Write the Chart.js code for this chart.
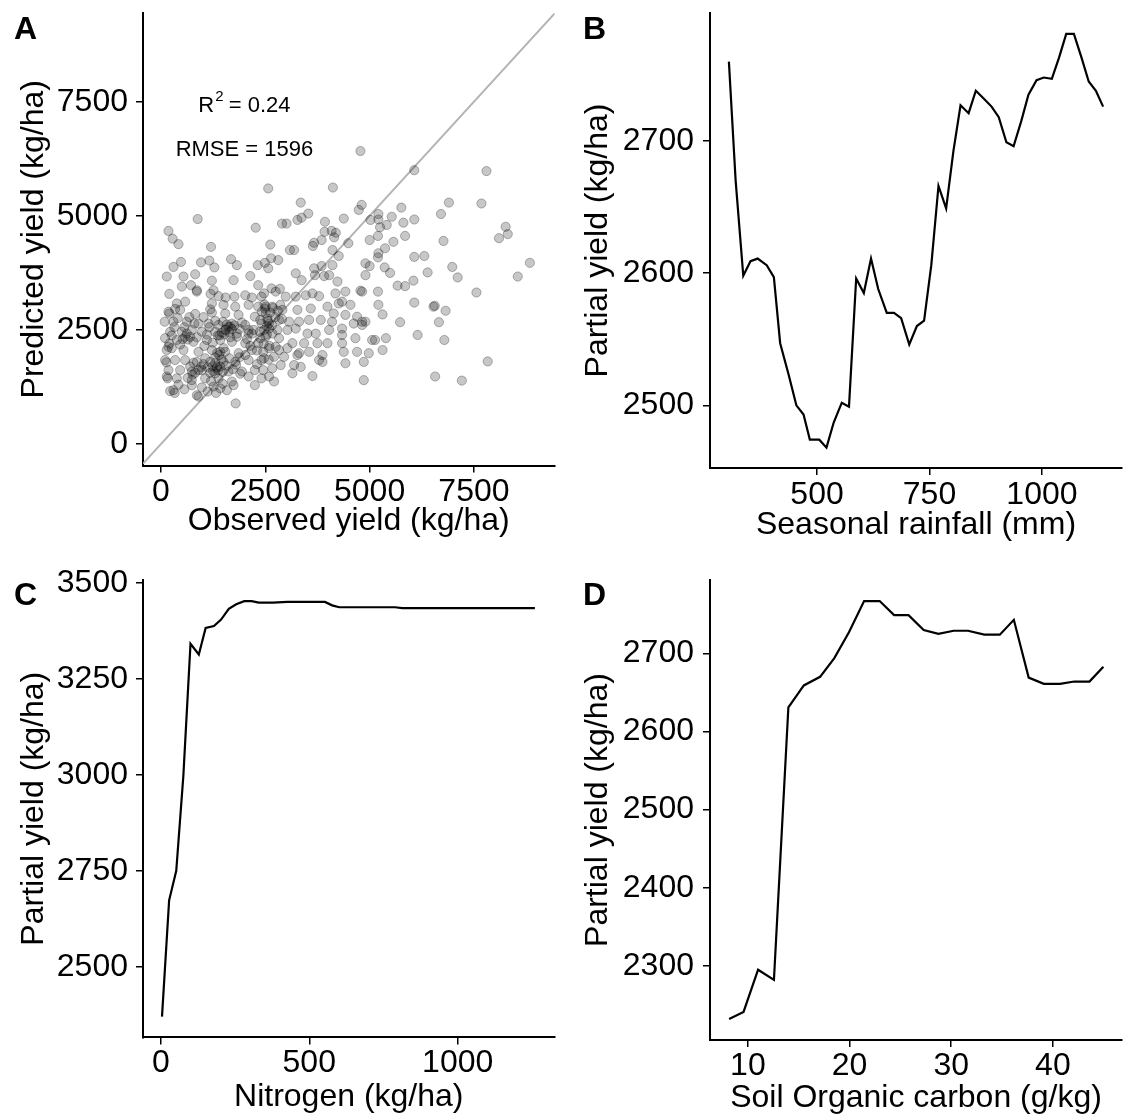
<!DOCTYPE html>
<html>
<head>
<meta charset="utf-8">
<script src="https://cdn.jsdelivr.net/npm/chart.js@4.4.0/dist/chart.umd.min.js"></script>
<style>
  body { margin: 0; background: #fff; }
  #fig { position: relative; width: 1123px; height: 1114px; overflow: hidden; }
  canvas { position: absolute; }
</style>
</head>
<body>
<div id="fig">
  <canvas id="chartA" width="561" height="557" style="left:0;top:0"></canvas>
  <canvas id="chartB" width="562" height="557" style="left:561px;top:0"></canvas>
  <canvas id="chartC" width="561" height="557" style="left:0;top:557px"></canvas>
  <canvas id="chartD" width="562" height="557" style="left:561px;top:557px"></canvas>
</div>
<script>
// ---- panel A: observed vs predicted yield (kg/ha) ----
const observedYield = [
  200,860,1190,1380,1550,1760,2020,2180,2410,380,580,1220,1500,1780,2100,2330,2490,
  180,460,820,1220,1540,1860,2250,90,300,620,900,1140,1380,1660,2020,2410,
  220,500,700,980,1300,1540,1820,2100,2370,100,380,780,1100,1420,1700,2020,2330,
  260,540,900,1220,1540,1860,2180,2450,100,340,580,860,1180,1500,1780,2100,2410,
  180,460,740,980,1340,1620,1940,2250,2450,140,380,740,1060,1380,1700,2100,2410,
  300,740,860,1260,1420,1580,1740,2250,900,1790,
  1340,1380,1620,1700,1550,1420,1500,2100,2180,580,640,180,140,
  1300,1400,1350,1450,1250,1300,
  130,160,220,330,
  2470,2750,2990,3230,3470,3790,4180,4340,4540,4820,
  2510,2670,2910,3270,3590,3990,4140,4420,4700,4900,
  2550,2830,3070,3310,3550,3830,4100,4340,4620,4820,
  2590,2790,3030,3230,3510,3710,4030,4340,4660,5060,
  2510,2830,3150,3430,3750,3990,4340,
  2590,2830,3030,3310,3550,3870,4380,4700,4980,
  2470,2710,2950,3270,3790,3870,4420,4860,
  2670,2870,3190,3350,2590,2710,3150,3630,4860,
  2510,2590,2670,2750,2470,4260,4820,
  2570,880,2270,180,280,420,1200,2620,3090,3010,2900,
  480,300,960,1160,1280,1680,1820,2320,2490,2640,2810,2570,
  140,540,820,1220,1740,2140,500,720,860,1260,2330,2650,2850,
  4780,4120,3350,3530,3270,3370,3930,4380,4810,4740,5020,
  3920,4090,4190,4150,3640,3670,3850,4490,5000,4110,4260,3190,4900,5000,
  4900,4110,3850,3670,3690,3910,4030,3230,3370,4230,4420,4780,3630,
  6070,7800,6900,7680,6710,5210,5760,5530,5810,6070,5410,5250,5210,5200,5850,
  5570,5370,5210,5200,6770,8260,8310,8100,6070,6310,8840,8550,6980,7110,6390,
  5360,5490,5670,5850,6050,5200,7560,6070,5210,5310,6530,6560,6820,6660,5730,
  6150,5390,5130,5310,6790,7830,6570,7210,
  // overlapping points inside the dense cluster
  760,820,900,960,1020,780,1120,1180,1240,1300,1420,1480,1560,1640,1720,1800,1880,1900,700,1060,
  1400,1460,1520,1580,1640,1700,1760,1820,1880,1940,1480,1660,
  2380,2420,2480,2560,2620,2680,2740,2800,2860,2900,2540,2660,
  200,260,320,400,460,520,560,620,680,740,800,860,200,340,
  2060,2140,2220,2300,2380,2460,2540,2600,2020,2300,2580,
  1040,1100,1160,1240,1300,1360,1020,1180,
  420,560,640,980,1120,1200,1320,1480
];
const predictedYield = [
  3290,3340,3290,3240,3210,3230,3260,3210,3230,3080,3120,3080,3050,3010,3050,3010,2970,
  2900,2940,2850,2880,2860,2830,2790,2680,2680,2680,2640,2640,2610,2570,2610,2640,
  2460,2460,2350,2460,2460,2500,2420,2420,2460,2320,2280,2240,2280,2280,2240,2210,2210,
  2100,2060,2020,2060,2020,1990,2060,2020,1840,1840,1840,1800,1800,1800,1800,1840,1840,
  1620,1620,1590,1620,1660,1590,1590,1620,1620,1480,1440,1400,1440,1440,1370,1480,1440,
  1180,1290,1070,1260,1220,1180,1290,1290,1040,890,
  1690,1620,2570,2640,2510,2020,2100,2500,2420,2350,2290,2130,2060,
  1900,1950,2000,1850,1600,1550,
  1790,1440,1160,1120,
  3300,3340,3230,3230,3260,3240,3300,3120,3050,3340,
  3010,3010,2940,2940,2970,3010,2860,2830,2790,2680,
  2750,2720,2680,2680,2720,2720,2680,2530,2640,2610,
  2530,2500,2500,2530,2420,2420,2500,2390,2320,2280,
  2350,2320,2210,2210,2210,2210,2210,
  2100,2060,2100,1990,2020,1950,2020,2020,1990,
  1880,1910,1910,1950,1840,1800,1770,1800,
  1660,1730,1730,1690,1480,1370,1550,1490,1400,
  2860,2640,2420,2130,2500,3080,2680,
  5600,4930,4740,4670,4500,4380,4320,4370,4250,4830,4830,
  3990,3880,3980,4020,3870,4050,3920,3920,3970,4070,4030,3850,
  3670,3670,3720,3580,3590,3680,3450,3480,3370,3370,3480,3410,3400,
  6420,5620,5290,5050,4910,4960,4870,4940,5240,5130,4910,
  4650,4670,4630,4530,4340,4410,4470,4400,4470,4250,4120,4250,3960,3900,
  3700,3920,3900,3850,3700,3680,3700,3740,3590,3560,3340,3360,3300,
  6000,5980,5290,5270,5040,5040,5180,4980,4850,4920,4800,4750,4920,4560,4560,
  4430,4290,4180,4090,4450,4760,4600,4510,4100,4120,3970,3670,3880,3650,3760,
  3870,3750,3470,3460,3580,3340,3320,3100,3050,2840,3010,3030,2920,2670,2670,
  2390,2320,2280,2060,2280,1810,1480,1390,
  // overlapping points inside the dense cluster
  1520,1560,1620,1690,1750,1780,1680,1560,1700,1780,1700,1580,1720,1880,1640,1740,1900,1540,1700,1880,
  2380,2440,2400,2620,2450,2520,2600,2350,2520,2660,2680,2340,
  2720,2900,3060,2700,2880,2980,2780,2920,3050,2740,2580,2600,
  2200,2380,2560,2760,2180,2300,2560,2420,2780,2500,2640,2340,2860,2960,
  2300,2150,2500,2050,2320,2200,2400,2150,1950,1750,1850,
  2150,2400,2560,2220,2700,2380,2780,2950,
  1300,1200,1450,1240,1150,1380,1120,1320
];
const yieldTicks = [0, 2500, 5000, 7500];
const r2Value = '0.24';
const rmseValue = '1596';

// ---- panel B: seasonal rainfall (mm) ----
const rainfall = [304,319,336,352,368,388,404,418,437,454,470,484,505,521,537,555,571,587,604,620,
  636,655,671,687,705,722,738,754,770,787,803,819,837,853,871,888,904,921,937,954,
  970,988,1004,1022,1038,1054,1071,1088,1104,1120,1136];
const rainfallYield = [2760,2670,2598,2609,2611,2606,2597,2547,2523,2500,2493,2474,2474,2468,2487,2502,2499,2596,2585,2611,
  2588,2570,2570,2566,2546,2560,2564,2606,2666,2649,2692,2727,2721,2738,2732,2726,2718,2699,2696,2715,
  2735,2746,2748,2747,2763,2781,2781,2763,2745,2738,2726];
const rainfallTicks = [500, 750, 1000];
const rainfallYieldTicks = [2500, 2600, 2700];

// ---- panel C: nitrogen (kg/ha) ----
const nitrogen = [4,28,52,76,100,128,151,179,203,229,254,281,306,330,378,426,499,553,577,601,668,789,813,909,1260];
const nitrogenYield = [2370,2673,2750,2998,3341,3313,3382,3387,3404,3432,3444,3452,3452,3448,3448,3450,3450,3450,3441,3436,3436,3436,3434,3434,3434];
const nitrogenTicks = [0, 500, 1000];
const nitrogenYieldTicks = [2500, 2750, 3000, 3250, 3500];

// ---- panel D: soil organic carbon (g/kg) ----
const soilCarbon = [8.15,9.57,11.0,12.56,13.98,15.5,17.1,18.5,19.94,21.43,22.96,24.38,25.8,27.29,28.74,30.24,31.66,33.25,34.78,36.16,37.62,39.11,40.7,42.1,43.6,44.97];
const soilCarbonYield = [2232,2241,2295,2282,2631,2659,2670,2694,2727,2767,2767,2749,2749,2730,2725,2729,2729,2724,2724,2743,2669,2661,2661,2664,2664,2683];
const carbonTicks = [10, 20, 30, 40];
const carbonYieldTicks = [2300, 2400, 2500, 2600, 2700];

const FONT = '"Liberation Sans", Arial, Helvetica, sans-serif';

const panelLabel = {
  id: 'panelLabel',
  afterDraw(chart, args, opts) {
    if (!opts || !opts.text) return;
    const ctx = chart.ctx;
    ctx.save();
    ctx.font = 'bold 32px ' + FONT;
    ctx.fillStyle = '#000';
    ctx.textBaseline = 'alphabetic';
    ctx.fillText(opts.text, opts.x, opts.y);
    ctx.restore();
  }
};
Chart.register(panelLabel);

// R^2 / RMSE text placed in data units, like annotate() in ggplot
const statsText = {
  id: 'statsText',
  afterDatasetsDraw(chart) {
    const { ctx, scales } = chart;
    const cx = scales.x.getPixelForValue(2000);
    const y1 = scales.y.getPixelForValue(7400);
    const y2 = scales.y.getPixelForValue(6450);
    ctx.save();
    ctx.fillStyle = '#000';
    ctx.textBaseline = 'middle';
    ctx.textAlign = 'left';
    const big = '22px ' + FONT, small = '15px ' + FONT;
    ctx.font = big;
    const wR = ctx.measureText('R').width;
    const wRest = ctx.measureText(' = ' + r2Value).width;
    ctx.font = small;
    const w2 = ctx.measureText('2').width;
    let x0 = cx - (wR + w2 + wRest) / 2;
    ctx.font = big;
    ctx.fillText('R', x0, y1);
    ctx.font = small;
    ctx.fillText('2', x0 + wR + 1, y1 - 9);
    ctx.font = big;
    ctx.fillText(' = ' + r2Value, x0 + wR + w2, y1);
    ctx.textAlign = 'center';
    ctx.fillText('RMSE = ' + rmseValue, cx, y2);
    ctx.restore();
  }
};

function scale(cfg) {
  const left = cfg.position === 'left';
  return {
    type: 'linear',
    position: cfg.position,
    min: cfg.min,
    max: cfg.max,
    afterBuildTicks: s => { s.ticks = cfg.ticks.map(v => ({ value: v })); },
    afterFit: s => {
      if (left) s.width = cfg.size; else s.height = cfg.size;
      // no extra room for half labels: the axes run to the panel edges
      s.paddingTop = 0; s.paddingBottom = 0; s.paddingLeft = 0; s.paddingRight = 0;
    },
    ticks: {
      autoSkip: false, maxRotation: 0, minRotation: 0,
      padding: cfg.tickPad, color: '#000',
      font: { family: FONT, size: 32, lineHeight: 1 },
      callback: v => String(v)
    },
    grid: { drawOnChartArea: false, drawTicks: true, tickLength: 7, color: '#000', lineWidth: 1.5 },
    border: { display: true, color: '#000', width: 2 },
    title: {
      display: true, text: cfg.title, color: '#000',
      font: { family: FONT, size: 32, lineHeight: 1 },
      padding: left ? { top: cfg.titlePad, bottom: 0 } : { top: 0, bottom: cfg.titlePad }
    }
  };
}

function makeChart(id, datasets, xCfg, yCfg, pad, label, extra) {
  return new Chart(document.getElementById(id), {
    type: 'scatter',
    data: { datasets },
    options: {
      responsive: false,
      animation: false,
      devicePixelRatio: 1,
      events: [],
      layout: { autoPadding: false, padding: pad },
      plugins: { legend: { display: false }, tooltip: { enabled: false }, panelLabel: label },
      scales: { x: scale(Object.assign({ position: 'bottom' }, xCfg)), y: scale(Object.assign({ position: 'left' }, yCfg)) }
    },
    plugins: extra || []
  });
}

function lineSet(xs, ys) {
  return {
    type: 'line',
    data: xs.map((x, i) => ({ x, y: ys[i] })),
    borderColor: '#000', borderWidth: 2.2,
    pointRadius: 0, fill: false, tension: 0
  };
}

// A
makeChart('chartA', [
  {
    data: observedYield.map((x, i) => ({ x, y: predictedYield[i] })),
    backgroundColor: 'rgba(0,0,0,0.22)',
    borderColor: 'rgba(0,0,0,0.28)',
    borderWidth: 1,
    pointRadius: 4.6,
    order: 0
  },
  {
    type: 'line',
    data: [{ x: -430, y: -430 }, { x: 9450, y: 9450 }],
    borderColor: '#b3b3b3', borderWidth: 2, pointRadius: 0, fill: false,
    order: 1
  }
],
{ min: -430, max: 9430, ticks: yieldTicks, title: 'Observed yield (kg/ha)', size: 91.5, tickPad: 4, titlePad: 20 },
{ min: -470, max: 9444, ticks: yieldTicks, title: 'Predicted yield (kg/ha)', size: 143, tickPad: 8, titlePad: 18 },
{ left: 0, top: 13, right: 6.5, bottom: 0 },
{ text: 'A', x: 14, y: 39 },
[statsText]);

// B
makeChart('chartB', [lineSet(rainfall, rainfallYield)],
{ min: 262, max: 1178, ticks: rainfallTicks, title: 'Seasonal rainfall (mm)', size: 89, tickPad: 4, titlePad: 16 },
{ min: 2452.6, max: 2796.8, ticks: rainfallYieldTicks, title: 'Partial yield (kg/ha)', size: 149, tickPad: 9, titlePad: 21 },
{ left: 0, top: 13, right: 1, bottom: 0 },
{ text: 'B', x: 22, y: 39 });

// C
makeChart('chartC', [lineSet(nitrogen, nitrogenYield)],
{ min: -60, max: 1326, ticks: nitrogenTicks, title: 'Nitrogen (kg/ha)', size: 76.6, tickPad: 3, titlePad: 1 },
{ min: 2316, max: 3507, ticks: nitrogenYieldTicks, title: 'Partial yield (kg/ha)', size: 143, tickPad: 8, titlePad: 18 },
{ left: 0, top: 23, right: 6.5, bottom: 0 },
{ text: 'C', x: 14, y: 48 });

// D
makeChart('chartD', [lineSet(soilCarbon, soilCarbonYield)],
{ min: 6.27, max: 46.8, ticks: carbonTicks, title: 'Soil Organic carbon (g/kg)', size: 74, tickPad: 3, titlePad: 0 },
{ min: 2205, max: 2794, ticks: carbonYieldTicks, title: 'Partial yield (kg/ha)', size: 149, tickPad: 9, titlePad: 21 },
{ left: 0, top: 23, right: 1, bottom: 0 },
{ text: 'D', x: 22, y: 48 });
</script>
</body>
</html>
